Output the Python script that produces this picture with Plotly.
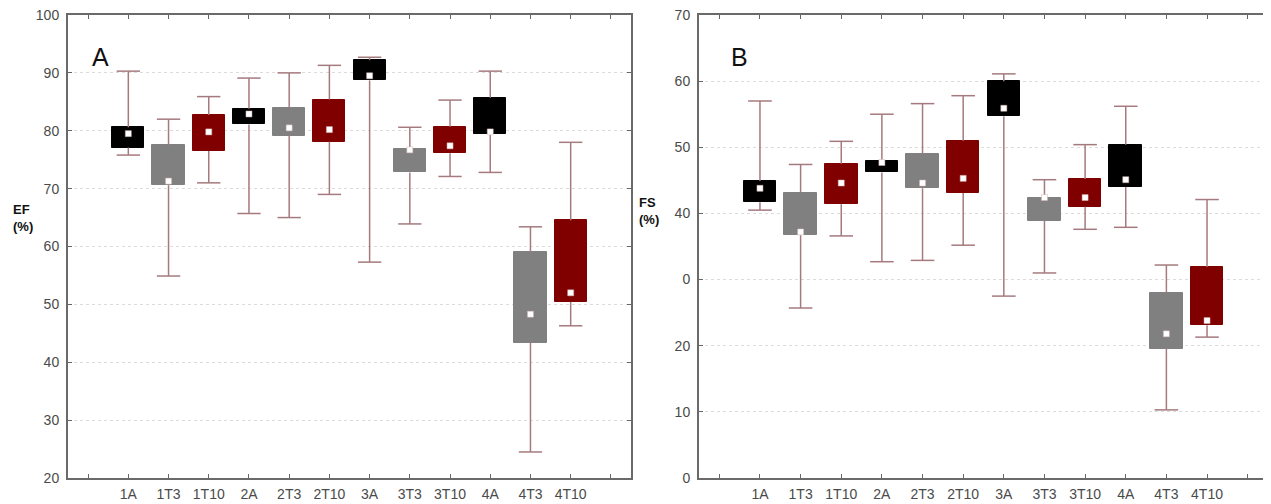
import plotly.graph_objects as go

categories = ["1A", "1T3", "1T10", "2A", "2T3", "2T10", "3A", "3T3", "3T10", "4A", "4T3", "4T10"]
group_colors = ["#000000", "#808080", "#800000"] * 4

# Panel A: EF (%)
ef_low = [75.8, 54.9, 71.0, 65.7, 65.0, 69.0, 57.3, 63.9, 72.1, 72.8, 24.5, 46.3]
ef_q1 = [77.1, 70.6, 76.5, 81.1, 79.1, 78.1, 88.7, 72.8, 76.1, 79.4, 43.4, 50.4]
ef_q3 = [80.6, 77.5, 82.7, 83.8, 84.0, 85.4, 92.2, 76.9, 80.7, 85.7, 59.1, 64.5]
ef_high = [90.3, 82.0, 85.9, 89.1, 90.0, 91.3, 92.7, 80.6, 85.3, 90.3, 63.4, 78.0]
ef_mid = [79.5, 71.3, 79.8, 82.9, 80.5, 80.2, 89.5, 76.7, 77.4, 79.8, 48.3, 52.0]

# Panel B: FS (%)
fs_low = [40.5, 25.7, 36.6, 32.7, 32.9, 35.2, 27.5, 31.0, 37.6, 37.9, 10.3, 21.3]
fs_q1 = [41.7, 36.7, 41.4, 46.2, 43.8, 43.1, 54.7, 38.9, 41.0, 44.0, 19.5, 23.1]
fs_q3 = [44.9, 43.1, 47.5, 48.0, 49.0, 51.0, 60.0, 42.4, 45.2, 50.4, 28.0, 31.9]
fs_high = [57.0, 47.4, 50.9, 55.0, 56.6, 57.8, 61.1, 45.1, 50.4, 56.2, 32.2, 42.1]
fs_mid = [43.8, 37.2, 44.6, 47.7, 44.6, 45.3, 55.9, 42.4, 42.4, 45.1, 21.8, 23.8]

ef_ticks = [20, 30, 40, 50, 60, 70, 80, 90, 100]
ef_ticktext = ["20", "30", "40", "50", "60", "70", "80", "90", "100"]
fs_ticks = [0, 10, 20, 30, 40, 50, 60, 70]
fs_ticktext = ["0", "10", "20", "0", "40", "50", "60", "70"]

x_ticktext = [""] + categories + [""]
x_pos = list(range(1, len(categories) + 1))

WHISKER = "#a57a7e"
CAP = 0.29

# page has an 8px body margin; figure sized to fit the window
W, H, OFF = 1263, 496, 8


def px(x):
    return (x - OFF) / W


def py(y):
    return 1 - (y - OFF) / H


fig = go.Figure()


def add_panel(low, q1, q3, high, mid, xa, ya):
    # boxes
    fig.add_trace(go.Bar(
        x=x_pos, y=[b - a for a, b in zip(q1, q3)], base=q1, width=0.8,
        marker=dict(color=group_colors, line=dict(color=group_colors, width=1)),
        xaxis=xa, yaxis=ya, showlegend=False, hoverinfo="skip"))
    # whiskers
    wx, wy = [], []
    for x, lo, a, b, hi in zip(x_pos, low, q1, q3, high):
        wx += [x, x, None, x - CAP, x + CAP, None, x, x, None, x - CAP, x + CAP, None]
        wy += [b, hi, None, hi, hi, None, a, lo, None, lo, lo, None]
    fig.add_trace(go.Scatter(
        x=wx, y=wy, mode="lines", line=dict(color=WHISKER, width=1.5),
        xaxis=xa, yaxis=ya, showlegend=False, hoverinfo="skip"))
    # central markers
    fig.add_trace(go.Scatter(
        x=x_pos, y=mid, mode="markers",
        marker=dict(symbol="square", size=6, color="white",
                    line=dict(color="#d0b0b0", width=0.5)),
        xaxis=xa, yaxis=ya, showlegend=False, hoverinfo="skip"))


add_panel(ef_low, ef_q1, ef_q3, ef_high, ef_mid, "x", "y")
add_panel(fs_low, fs_q1, fs_q3, fs_high, fs_mid, "x2", "y2")

tickfont = dict(family="Liberation Sans, Arial, sans-serif", size=14, color="#4a4a4a")
common_x = dict(range=[-0.5, 13.5], tickmode="array", tickvals=list(range(14)),
                ticktext=x_ticktext, ticks="inside", ticklen=4, tickcolor="#666",
                showline=True, linecolor="#6a6a6a", linewidth=2, mirror="ticks",
                showgrid=False, zeroline=False, tickfont=tickfont, ticklabelstandoff=2,
                ticklabeloverflow="allow")
common_y = dict(ticks="inside", ticklen=4, tickcolor="#666", showline=True,
                linecolor="#6a6a6a", linewidth=2, mirror="ticks",
                showgrid=True, gridcolor="#dcdcdc", griddash="dot", gridwidth=1,
                zeroline=False, tickfont=tickfont, tickmode="array", ticklabelstandoff=4,
                ticklabeloverflow="allow")

ydom = [py(478), py(15)]
fig.update_layout(
    width=W, height=H, margin=dict(l=0, r=0, t=0, b=0, autoexpand=False),
    paper_bgcolor="white", plot_bgcolor="white", bargap=0,
    xaxis=dict(domain=[px(68), px(631)], anchor="y", **common_x),
    yaxis=dict(domain=ydom, anchor="x", range=[20, 100], tickvals=ef_ticks,
               ticktext=ef_ticktext, **common_y),
    xaxis2=dict(domain=[px(699), px(1268)], anchor="y2", **common_x),
    yaxis2=dict(domain=ydom, anchor="x2", range=[0, 70], tickvals=fs_ticks,
                ticktext=fs_ticktext, **common_y),
    annotations=[
        dict(text="A", x=px(100), y=py(57), xref="paper", yref="paper",
             xanchor="center", yanchor="middle", showarrow=False,
             font=dict(family="Liberation Sans, Arial", size=25, color="#111")),
        dict(text="B", x=px(739), y=py(57), xref="paper", yref="paper",
             xanchor="center", yanchor="middle", showarrow=False,
             font=dict(family="Liberation Sans, Arial", size=25, color="#111")),
        dict(text="<b>EF</b><br><b>(%)</b>", x=px(11), y=py(218), xref="paper",
             yref="paper", xanchor="left", yanchor="middle", align="left", showarrow=False,
             font=dict(family="Liberation Sans, Arial", size=13, color="#111")),
        dict(text="<b>FS</b><br><b>(%)</b>", x=px(637), y=py(211), xref="paper",
             yref="paper", xanchor="left", yanchor="middle", align="left", showarrow=False,
             font=dict(family="Liberation Sans, Arial", size=13, color="#111")),
    ],
)

fig.write_html("out.html")
